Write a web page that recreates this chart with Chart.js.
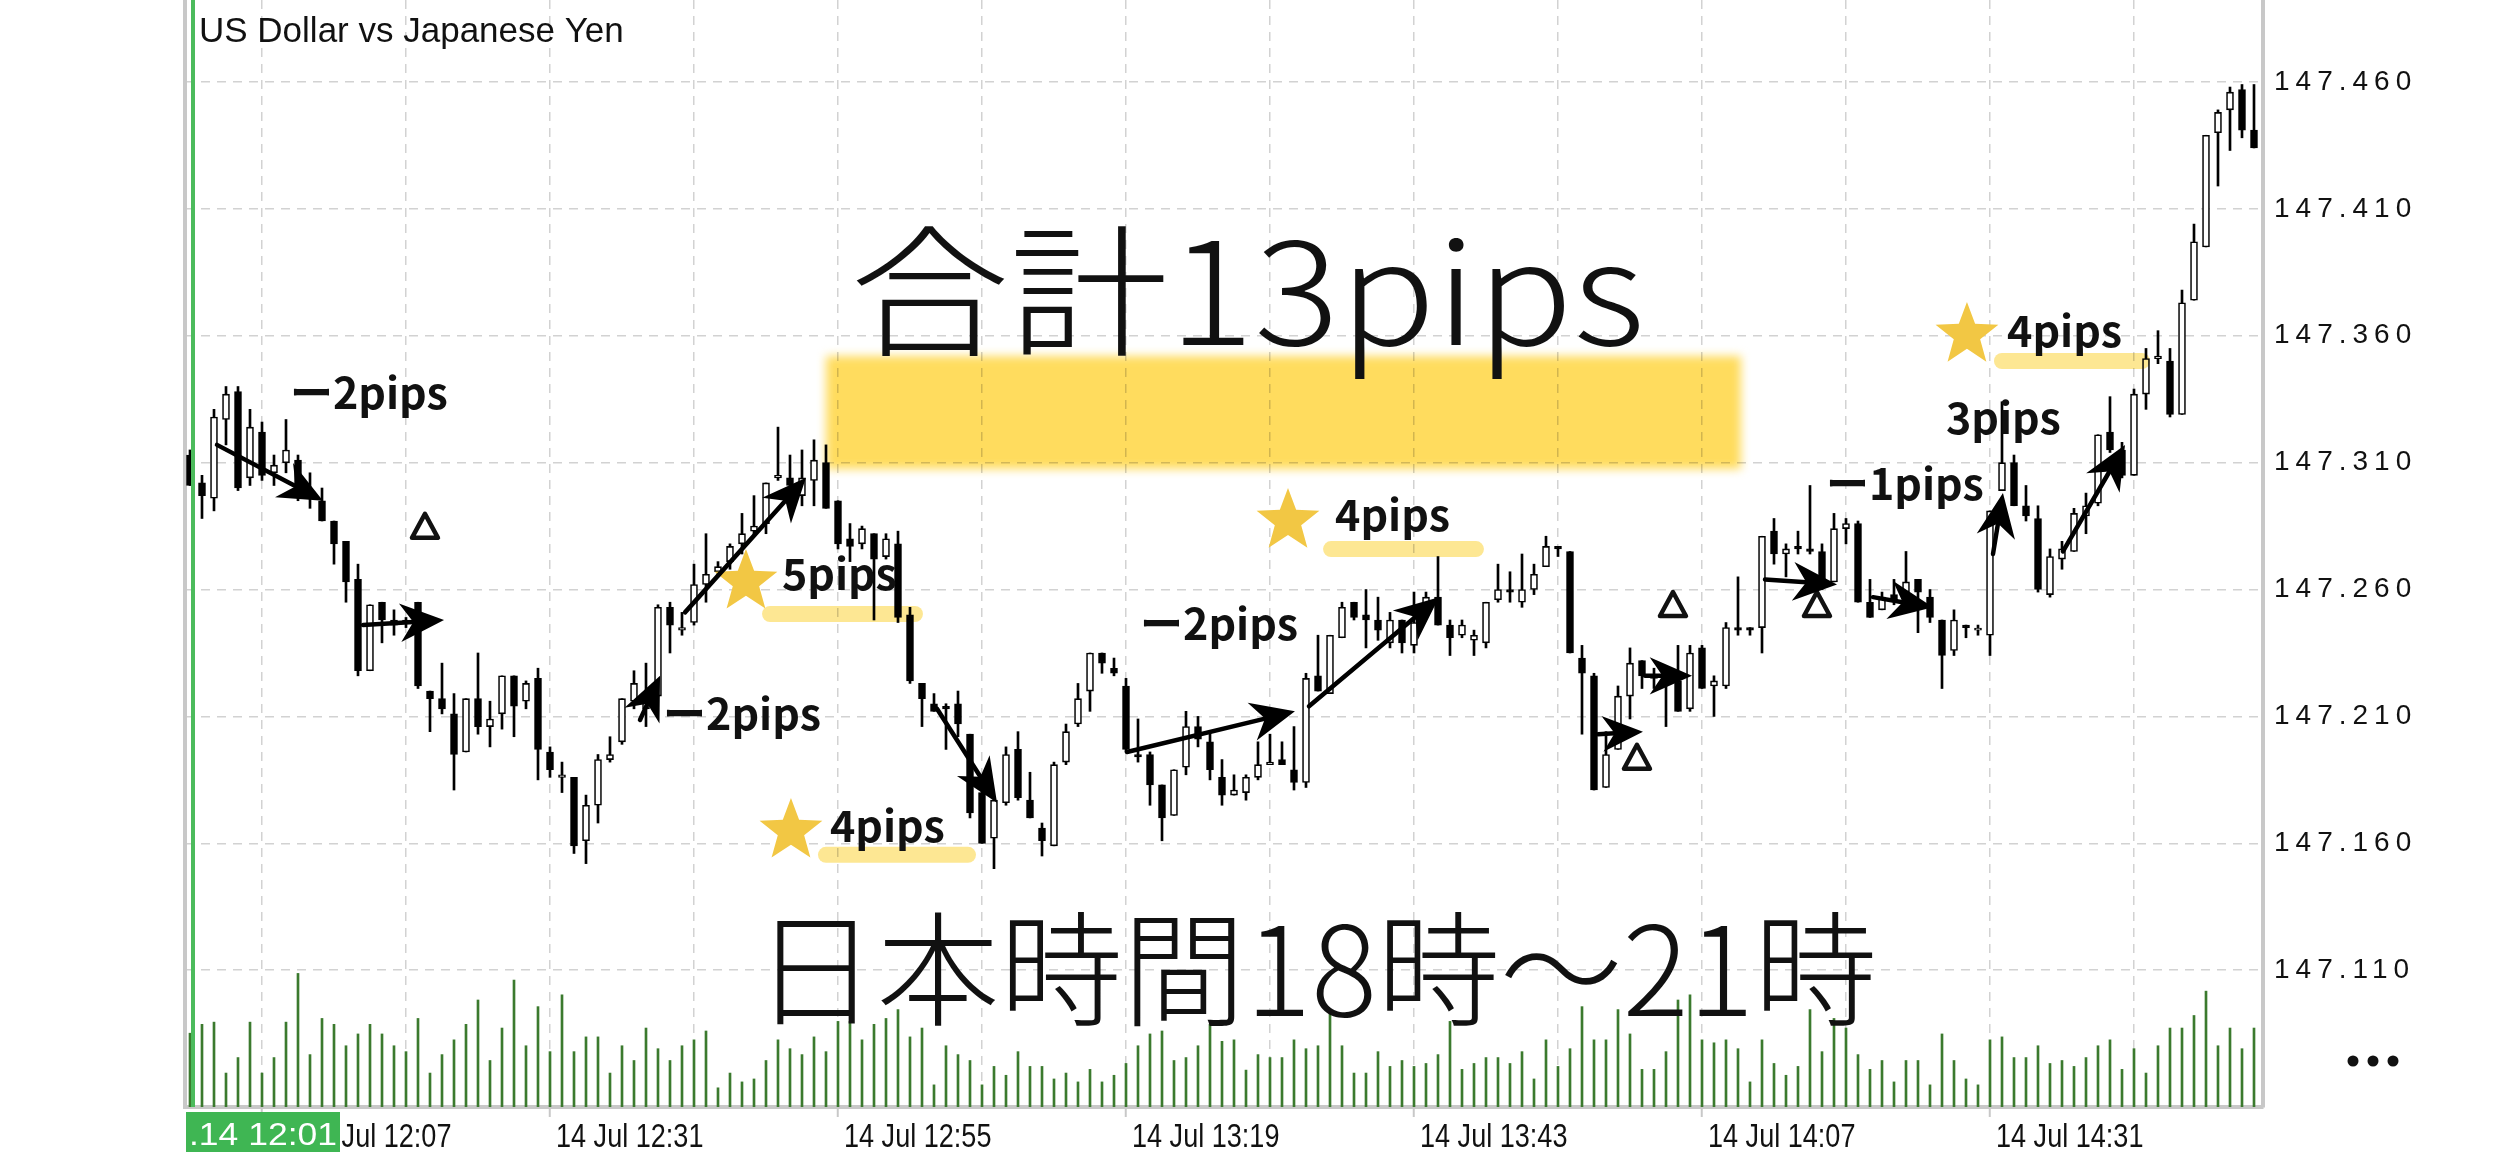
<!DOCTYPE html>
<html>
<head>
<meta charset="utf-8">
<style>
  html, body { margin: 0; padding: 0; background: #ffffff; }
  #wrap { position: relative; width: 2516px; height: 1157px; }
</style>
<script src="https://cdn.jsdelivr.net/npm/chart.js@4.4.0/dist/chart.umd.min.js"></script>
</head>
<body>
<div id="wrap"><canvas id="c"></canvas></div>
<script>
// USDJPY, M1 — 14 Jul, 12:01 to 14:53 server time (one candle per minute)
const opens = [
  147.313,147.302,147.296,147.327,147.338,147.304,147.322,147.306,147.310,147.311,
  147.299,147.295,147.287,147.279,147.264,147.228,147.255,147.246,147.247,147.255,
  147.220,147.217,147.211,147.196,147.217,147.206,147.211,147.226,147.216,147.225,
  147.196,147.186,147.186,147.161,147.175,147.193,147.200,147.216,147.213,147.218,
  147.253,147.244,147.247,147.262,147.267,147.271,147.278,147.283,147.286,147.304,
  147.304,147.297,147.303,147.310,147.295,147.280,147.278,147.282,147.273,147.278,
  147.250,147.223,147.215,147.214,147.215,147.203,147.180,147.162,147.176,147.197,
  147.177,147.166,147.159,147.192,147.207,147.220,147.235,147.229,147.222,147.195,
  147.195,147.183,147.171,147.190,147.206,147.200,147.186,147.179,147.180,147.186,
  147.191,147.193,147.189,147.184,147.226,147.219,147.241,147.255,147.250,147.248,
  147.239,147.248,147.238,147.254,147.257,147.246,147.242,147.240,147.239,147.256,
  147.260,147.255,147.260,147.269,147.277,147.275,147.233,147.226,147.182,147.197,
  147.218,147.232,147.226,147.226,147.224,147.213,147.237,147.222,147.222,147.245,
  147.245,147.245,147.283,147.274,147.277,147.276,147.275,147.263,147.284,147.286,
  147.255,147.252,147.258,147.259,147.264,147.257,147.248,147.236,147.246,147.244,
  147.242,147.299,147.310,147.293,147.288,147.258,147.272,147.275,147.289,147.294,
  147.322,147.315,147.305,147.337,147.351,147.350,147.329,147.374,147.395,147.440,
  147.449,147.457,147.441
];
const highs = [
  147.315,147.305,147.331,147.340,147.340,147.331,147.326,147.313,147.327,147.313,
  147.306,147.300,147.287,147.279,147.270,147.254,147.255,147.252,147.249,147.255,
  147.220,147.231,147.219,147.217,147.235,147.216,147.226,147.226,147.224,147.229,
  147.198,147.192,147.186,147.179,147.195,147.202,147.217,147.228,147.231,147.254,
  147.255,147.251,147.270,147.282,147.271,147.278,147.290,147.297,147.302,147.324,
  147.313,147.315,147.319,147.317,147.295,147.286,147.285,147.282,147.282,147.283,
  147.253,147.223,147.219,147.215,147.220,147.203,147.187,147.178,147.198,147.204,
  147.188,147.168,147.192,147.207,147.223,147.235,147.235,147.233,147.225,147.209,
  147.196,147.183,147.189,147.212,147.210,147.204,147.193,147.187,147.187,147.200,
  147.203,147.200,147.206,147.227,147.242,147.242,147.255,147.255,147.260,147.257,
  147.251,147.248,147.259,147.259,147.273,147.248,147.248,147.244,147.255,147.270,
  147.267,147.274,147.270,147.281,147.277,147.275,147.238,147.227,147.204,147.222,
  147.237,147.232,147.229,147.227,147.238,147.238,147.238,147.226,147.247,147.265,
  147.245,147.281,147.288,147.278,147.283,147.301,147.278,147.290,147.288,147.287,
  147.264,147.259,147.264,147.275,147.264,147.260,147.248,147.252,147.246,147.246,
  147.291,147.334,147.313,147.301,147.293,147.276,147.279,147.292,147.298,147.321,
  147.336,147.318,147.339,147.355,147.362,147.355,147.378,147.404,147.439,147.449,
  147.458,147.459,147.459
];
const lows = [
  147.301,147.288,147.291,147.317,147.299,147.301,147.303,147.301,147.306,147.295,
  147.292,147.287,147.270,147.255,147.226,147.228,147.239,147.242,147.245,147.221,
  147.204,147.211,147.181,147.196,147.203,147.198,147.205,147.202,147.213,147.185,
  147.186,147.180,147.156,147.152,147.168,147.192,147.199,147.213,147.206,147.218,
  147.235,147.242,147.246,147.255,147.265,147.268,147.274,147.281,147.282,147.303,
  147.300,147.293,147.293,147.292,147.276,147.271,147.276,147.248,147.272,147.247,
  147.223,147.206,147.212,147.197,147.202,147.170,147.160,147.150,147.175,147.177,
  147.170,147.155,147.159,147.191,147.206,147.212,147.227,147.226,147.196,147.192,
  147.175,147.161,147.171,147.187,147.198,147.185,147.175,147.179,147.177,147.185,
  147.191,147.191,147.181,147.182,147.220,147.219,147.241,147.248,147.237,147.240,
  147.237,147.235,147.235,147.249,147.246,147.234,147.241,147.234,147.237,147.255,
  147.255,147.253,147.258,147.269,147.273,147.235,147.203,147.181,147.182,147.197,
  147.209,147.221,147.221,147.206,147.212,147.212,147.221,147.210,147.221,147.242,
  147.242,147.235,147.270,147.265,147.274,147.274,147.260,147.263,147.278,147.255,
  147.249,147.252,147.254,147.259,147.243,147.247,147.221,147.234,147.241,147.242,
  147.234,147.299,147.293,147.287,147.259,147.257,147.268,147.275,147.282,147.293,
  147.314,147.304,147.305,147.331,147.349,147.328,147.329,147.374,147.395,147.419,
  147.433,147.438,147.434
];
const closes = [
  147.301,147.297,147.328,147.337,147.300,147.324,147.305,147.309,147.315,147.300,
  147.296,147.287,147.278,147.263,147.228,147.254,147.248,147.248,147.248,147.222,
  147.217,147.213,147.195,147.217,147.206,147.209,147.226,147.214,147.223,147.197,
  147.189,147.187,147.159,147.175,147.193,147.195,147.217,147.223,147.219,147.253,
  147.246,147.245,147.262,147.266,147.269,147.277,147.282,147.285,147.302,147.305,
  147.301,147.304,147.311,147.292,147.278,147.277,147.284,147.272,147.280,147.249,
  147.224,147.217,147.212,147.213,147.207,147.172,147.160,147.177,147.195,147.178,
  147.170,147.161,147.191,147.204,147.217,147.235,147.231,147.227,147.197,147.194,
  147.183,147.170,147.189,147.206,147.201,147.189,147.179,147.181,147.186,147.191,
  147.192,147.191,147.184,147.225,147.220,147.242,147.253,147.249,147.248,147.244,
  147.248,147.239,147.247,147.257,147.246,147.241,147.246,147.242,147.255,147.260,
  147.259,147.260,147.266,147.277,147.276,147.235,147.227,147.181,147.195,147.218,
  147.231,147.226,147.225,147.224,147.212,147.235,147.221,147.224,147.245,147.244,
  147.244,147.281,147.274,147.276,147.276,147.275,147.264,147.284,147.286,147.255,
  147.249,147.257,147.256,147.263,147.259,147.249,147.234,147.248,147.245,147.244,
  147.291,147.310,147.293,147.289,147.260,147.273,147.276,147.290,147.293,147.321,
  147.315,147.305,147.337,147.351,147.352,147.329,147.373,147.397,147.439,147.448,
  147.456,147.441,147.434
];
// tick volume per candle
const volumes = [
  100,112,115,46,67,115,46,67,115,181,
  71,120,112,83,99,112,99,83,75,120,
  46,71,91,112,145,63,107,172,83,136,
  75,152,75,95,95,46,83,63,107,79,
  63,83,91,103,26,46,34,38,63,91,
  79,71,95,75,116,116,91,112,120,132,
  95,107,30,83,71,63,30,55,43,75,
  55,55,38,46,34,51,34,43,59,83,
  99,103,63,67,83,112,89,91,50,71,
  67,67,91,79,83,129,83,46,46,75,
  55,63,55,59,71,116,51,59,67,67,
  59,75,38,91,55,79,136,91,91,132,
  99,51,51,75,145,152,91,87,91,79,
  34,91,59,43,55,132,75,120,107,71,
  51,63,34,63,63,30,99,63,38,30,
  91,95,67,67,83,59,63,55,67,83,
  91,51,79,46,83,107,107,124,157,83,
  107,79,107
];
// time axis: candle index of each labelled minute and its label
const timeTickIndex = [6, 30, 54, 78, 102, 126, 150];
const timeTickLabels = ['14 Jul 12:07', '14 Jul 12:31', '14 Jul 12:55', '14 Jul 13:19',
                        '14 Jul 13:43', '14 Jul 14:07', '14 Jul 14:31'];
const priceTicks = [147.110, 147.160, 147.210, 147.260, 147.310, 147.360, 147.410, 147.460];

// hand-drawn notes, anchored at (candle index, price)
const highlight = { i0: 53.0, i1: 129.25, p0: 147.352, p1: 147.3075 };
const headline = { text: '合計13pips', i0: 55.0, i1: 121.25, p: 147.3564, size: 142 };
const caption = { text: '日本時間18時〜21時', i0: 47.0, i1: 140.58, p: 147.0920, size: 124 };
const pipNotes = [
  { text: 'ー2pips', i: 8.33, p: 147.3312 },
  { text: 'ー2pips', i: 39.42, p: 147.2047 },
  { text: 'ー2pips', i: 79.17, p: 147.2401 },
  { text: '5pips', i: 49.33, p: 147.2598 },
  { text: '4pips', i: 53.33, p: 147.1606 },
  { text: '4pips', i: 95.42, p: 147.2831 },
  { text: '4pips', i: 151.42, p: 147.3556 },
  { text: '3pips', i: 146.33, p: 147.3213 },
  { text: 'ー1pips', i: 136.33, p: 147.2953 }
];
const underlines = [
  { i0: 47.67, i1: 61.08, p0: 147.2535, p1: 147.2472 },
  { i0: 52.33, i1: 65.5, p0: 147.1586, p1: 147.1523 },
  { i0: 94.42, i1: 107.83, p0: 147.2791, p1: 147.2728 },
  { i0: 150.33, i1: 163.33, p0: 147.3532, p1: 147.3469 }
];
const stars = [[46.33, 147.263], [50.08, 147.1649], [91.5, 147.287], [148.08, 147.3603]];
const triangles = [[19.58, 147.2847], [123.58, 147.2539], [120.58, 147.1937], [135.58, 147.2539]];
const arrows = [
  [[2.25, 147.317], [11.08, 147.295]],
  [[14.42, 147.246], [21.17, 147.248]],
  [[37.5, 147.2086], [39.17, 147.226]],
  [[41.25, 147.251], [51.33, 147.304]],
  [[62.25, 147.213], [67.25, 147.176]],
  [[78.08, 147.196], [92.08, 147.212]],
  [[93.25, 147.214], [104.08, 147.257]],
  [[117.33, 147.203], [121.08, 147.204]],
  [[121.25, 147.226], [125.17, 147.226]],
  [[131.25, 147.264], [137.25, 147.262]],
  [[140.25, 147.257], [145.25, 147.253]],
  [[150.25, 147.274], [151.08, 147.298]],
  [[156.08, 147.275], [161.25, 147.317]]
];

const gridIdx = [];
for (let v = timeTickIndex[0]; v < opens.length; v += 12) gridIdx.push(v);

const SANS = '"Liberation Sans", Arial, sans-serif';
const CJK = '"Noto Sans CJK JP", "Noto Sans", sans-serif';
const GRID = '#d2d2d2';
const FRAME = '#c8c8c8';
const TAG_WIDTH = 154;

// wider letter spacing on the price scale labels
const spacedPriceLabels = {
  id: 'spacedPriceLabels',
  beforeDraw(chart) {
    const s = chart.scales.y;
    if (s.__spaced) return;
    const orig = s.drawLabels.bind(s);
    s.drawLabels = (area) => {
      const ctx = chart.ctx;
      ctx.save();
      ctx.letterSpacing = '6px';
      orig(area);
      ctx.restore();
    };
    s.__spaced = true;
  }
};

// narrow time labels: each label item from the scale drawn squeezed horizontally;
// a label starting under the crosshair tag is nudged to its right
const narrowTimeLabels = {
  id: 'narrowTimeLabels',
  beforeDraw(chart) {
    const s = chart.scales.x;
    if (s.__narrow) return;
    s.drawLabels = function (area) {
      const ctx = this.ctx;
      const items = this.getLabelItems(area);
      const tagRight = chart.chartArea.left + TAG_WIDTH;
      for (const it of items) {
        if (!it.label) continue;
        const o = it.options;
        let x = o.translation[0];
        if (x < tagRight) x += 36;
        ctx.save();
        ctx.translate(x, o.translation[1]);
        ctx.rotate(o.rotation || 0);
        ctx.scale(0.82, 1);
        ctx.font = it.font.string;
        ctx.fillStyle = o.color;
        ctx.textAlign = o.textAlign;
        ctx.textBaseline = o.textBaseline;
        ctx.fillText(it.label, 0, it.textOffset);
        ctx.restore();
      }
    };
    s.__narrow = true;
  }
};

function drawArrow(ctx, x0, y0, x1, y1) {
  const dx = x1 - x0, dy = y1 - y0, L = Math.hypot(dx, dy);
  const ux = dx / L, uy = dy / L, nx = -uy, ny = ux;
  const hl = Math.min(44, L * 0.9), hw = hl * 0.44, notch = hl * 0.7;
  ctx.lineWidth = 4.5;
  ctx.lineCap = 'round';
  ctx.beginPath();
  ctx.moveTo(x0, y0);
  ctx.lineTo(x1 - ux * notch, y1 - uy * notch);
  ctx.stroke();
  ctx.beginPath();
  ctx.moveTo(x1, y1);
  ctx.lineTo(x1 - ux * hl + nx * hw, y1 - uy * hl + ny * hw);
  ctx.lineTo(x1 - ux * notch, y1 - uy * notch);
  ctx.lineTo(x1 - ux * hl - nx * hw, y1 - uy * hl - ny * hw);
  ctx.closePath();
  ctx.fill();
}

function drawStar(ctx, cx, cy, R) {
  const r = R * 0.42;
  ctx.beginPath();
  for (let k = 0; k < 10; k++) {
    const a = -Math.PI / 2 + k * Math.PI / 5;
    const rr = k % 2 ? r : R;
    ctx.lineTo(cx + rr * Math.cos(a), cy + rr * Math.sin(a));
  }
  ctx.closePath();
  ctx.fill();
}

function fitText(ctx, text, x0, x1, y) {
  const w = ctx.measureText(text).width;
  ctx.save();
  ctx.translate(x0, y);
  ctx.scale((x1 - x0) / w, 1);
  ctx.fillText(text, 0, 0);
  ctx.restore();
}

const notesPlugin = {
  id: 'notes',
  afterDraw(chart) {
    const ctx = chart.ctx;
    const X = v => chart.scales.x.getPixelForValue(v);
    const Y = v => chart.scales.y.getPixelForValue(v);
    const area = chart.chartArea;

    // title
    ctx.save();
    ctx.fillStyle = '#111';
    ctx.font = `35px ${SANS}`;
    ctx.textBaseline = 'alphabetic';
    ctx.fillText('US Dollar vs Japanese Yen', area.left + 14, 42);
    ctx.restore();

    // marker highlight behind the headline
    ctx.save();
    ctx.globalCompositeOperation = 'multiply';
    ctx.filter = 'blur(5px)';
    ctx.fillStyle = '#ffdc5e';
    ctx.fillRect(X(highlight.i0), Y(highlight.p0), X(highlight.i1) - X(highlight.i0), Y(highlight.p1) - Y(highlight.p0));
    ctx.restore();

    // underline strokes under the gains
    ctx.save();
    ctx.globalCompositeOperation = 'multiply';
    ctx.fillStyle = '#fde793';
    underlines.forEach(u => {
      const x0 = X(u.i0), x1 = X(u.i1), y0 = Y(u.p0), y1 = Y(u.p1);
      ctx.beginPath();
      ctx.roundRect(x0, y0, x1 - x0, y1 - y0, (y1 - y0) / 2);
      ctx.fill();
    });
    ctx.restore();

    // big captions
    ctx.save();
    ctx.fillStyle = '#111';
    ctx.textBaseline = 'alphabetic';
    ctx.font = `300 ${headline.size}px ${CJK}`;
    fitText(ctx, headline.text, X(headline.i0), X(headline.i1), Y(headline.p));
    ctx.font = `300 ${caption.size}px ${CJK}`;
    fitText(ctx, caption.text, X(caption.i0), X(caption.i1), Y(caption.p));
    ctx.restore();

    // stars
    ctx.save();
    ctx.fillStyle = '#f2c744';
    stars.forEach(s => drawStar(ctx, X(s[0]), Y(s[1]), 33));
    ctx.restore();

    // pip labels
    ctx.save();
    ctx.fillStyle = '#111';
    ctx.font = `700 43px ${CJK}`;
    ctx.textBaseline = 'alphabetic';
    pipNotes.forEach(n => ctx.fillText(n.text, X(n.i), Y(n.p)));
    ctx.restore();

    // open triangles
    ctx.save();
    ctx.strokeStyle = '#111';
    ctx.lineWidth = 4.5;
    ctx.lineJoin = 'round';
    triangles.forEach(t => {
      const cx = X(t[0]), cy = Y(t[1]);
      ctx.beginPath();
      ctx.moveTo(cx, cy - 13);
      ctx.lineTo(cx + 13, cy + 11);
      ctx.lineTo(cx - 13, cy + 11);
      ctx.closePath();
      ctx.stroke();
    });
    ctx.restore();

    // arrows
    ctx.save();
    ctx.strokeStyle = '#000';
    ctx.fillStyle = '#000';
    arrows.forEach(a => drawArrow(ctx, X(a[0][0]), Y(a[0][1]), X(a[1][0]), Y(a[1][1])));
    ctx.restore();

    // crosshair on the first candle with its time tag
    const cx = X(0) + 3;
    ctx.save();
    ctx.fillStyle = '#4cbb5c';
    ctx.fillRect(cx - 2, 0, 4, area.bottom);
    ctx.fillStyle = '#3fb653';
    ctx.fillRect(area.left + 1, area.bottom + 5, TAG_WIDTH, 40);
    ctx.fillStyle = '#ffffff';
    ctx.font = `31px ${SANS}`;
    ctx.textBaseline = 'alphabetic';
    fitText(ctx, '.14 12:01', area.left + 4, area.left + TAG_WIDTH - 2, area.bottom + 38);
    ctx.restore();

    // menu dots under the price scale
    ctx.save();
    ctx.fillStyle = '#111';
    const dx0 = chart.scales.y.left + 90, dy = 1061;
    [0, 20, 40].forEach(o => { ctx.beginPath(); ctx.arc(dx0 + o, dy, 5.5, 0, Math.PI * 2); ctx.fill(); });
    ctx.restore();
  }
};

const idx = opens.map((_, i) => i);

new Chart(document.getElementById('c'), {
  type: 'bar',
  data: {
    datasets: [
      {
        label: 'Volume',
        yAxisID: 'yv',
        data: volumes.map((v, i) => ({ x: i, y: v })),
        backgroundColor: '#3b7a2e',
        barThickness: 2,
        grouped: false,
        order: 3
      },
      {
        label: 'High-Low',
        yAxisID: 'y',
        data: idx.map(i => ({ x: i, y: [lows[i], highs[i]] })),
        backgroundColor: '#000000',
        barThickness: 2,
        grouped: false,
        order: 2
      },
      {
        label: 'Open-Close',
        yAxisID: 'y',
        data: idx.map(i => ({ x: i, y: [opens[i], closes[i]] })),
        backgroundColor: c => closes[c.dataIndex] >= opens[c.dataIndex] ? '#ffffff' : '#000000',
        borderColor: '#000000',
        borderWidth: 1.6,
        borderSkipped: false,
        barThickness: 7,
        minBarLength: 2,
        grouped: false,
        order: 1
      }
    ]
  },
  options: {
    responsive: true,
    maintainAspectRatio: false,
    devicePixelRatio: 1,
    animation: false,
    events: [],
    layout: { padding: { left: 185, top: 0, right: 0, bottom: 0 } },
    plugins: { legend: { display: false }, tooltip: { enabled: false }, title: { display: false } },
    scales: {
      x: {
        type: 'linear',
        offset: false,
        min: -0.4167,
        max: 172.75,
        afterBuildTicks: s => { s.ticks = gridIdx.map(v => ({ value: v })); },
        ticks: {
          autoSkip: false, maxRotation: 0, minRotation: 0,
          align: 'start', padding: 1, labelOffset: 6,
          color: '#111',
          font: { size: 33, family: SANS },
          callback: v => { const k = timeTickIndex.indexOf(v); return k >= 0 ? timeTickLabels[k] : ''; }
        },
        grid: {
          offset: false,
          color: GRID, lineWidth: 1.5,
          drawTicks: true, tickLength: 10, tickWidth: 2,
          tickColor: c => (c.tick && timeTickIndex.includes(c.tick.value)) ? FRAME : 'rgba(0,0,0,0)'
        },
        border: { display: true, color: FRAME, width: 4, dash: [9, 7] },
        afterFit: s => { s.height = 50; s.paddingLeft = 0; s.paddingRight = 0; }
      },
      y: {
        position: 'right',
        min: 147.0561,
        max: 147.4923,
        afterBuildTicks: s => { s.ticks = priceTicks.map(v => ({ value: v })); },
        ticks: {
          padding: 11, color: '#111',
          font: { size: 28, family: SANS },
          callback: v => Number(v).toFixed(3)
        },
        grid: { color: GRID, lineWidth: 1.5, drawTicks: false },
        border: { display: true, color: FRAME, width: 4, dash: [9, 7] },
        afterFit: s => { s.width = 253; s.paddingTop = 0; s.paddingBottom = 0; }
      },
      yv: {
        position: 'left',
        min: 0,
        max: 1500,
        ticks: { display: false },
        grid: { display: false, drawTicks: false },
        border: { display: true, color: FRAME, width: 4 },
        afterFit: s => { s.width = 0; s.paddingTop = 0; s.paddingBottom = 0; }
      }
    }
  },
  plugins: [spacedPriceLabels, narrowTimeLabels, notesPlugin]
});
</script>
</body>
</html>
